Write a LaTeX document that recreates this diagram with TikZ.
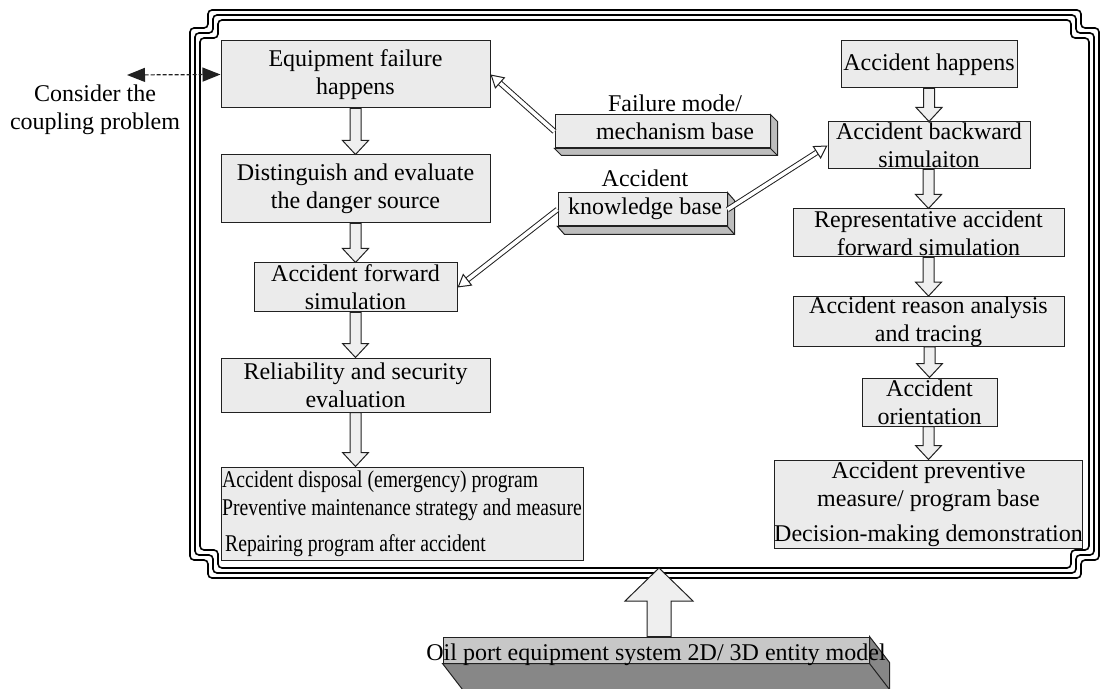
\documentclass[tikz,border=0pt]{standalone}
\usepackage{fontspec}
\setmainfont{Liberation Serif}
\newfontfamily\narrowserif{Liberation Serif}[FakeStretch=0.82]
\usepackage{tikz}
\usetikzlibrary{arrows.meta,calc}
\definecolor{pbline}{rgb}{0.13,0.13,0.13}
\definecolor{pbfill}{rgb}{0.92,0.92,0.92}
\definecolor{pbside}{rgb}{0.74,0.74,0.74}
\definecolor{pbdark}{rgb}{0.53,0.53,0.53}

% block arrow: start, tip, half shaft, half head, head length
\newcommand{\blockarrow}[5]{%
  \draw[barrow] let \p1=(#1), \p2=(#2), \n1={ifthenelse(\y2<\y1,1,-1)} in
    (\x2-#3,\y1) -- (\x2-#3,\y2+\n1*#5) -- (\x2-#4,\y2+\n1*#5) -- (\p2)
    -- (\x2+#4,\y2+\n1*#5) -- (\x2+#3,\y2+\n1*#5) -- (\x2+#3,\y1) -- cycle;}
% extruded faces of a 3D box: node, dx, dy, colour
\newcommand{\extrude}[4]{%
  \draw[pbline, line width=0.5pt, fill=#4] (#1.north east) -- ++(#2,#3)
    -- ($(#1.south east)+(#2,#3)$) -- ($(#1.south west)+(#2,#3)$)
    -- (#1.south west) -- (#1.south east) -- cycle;
  \draw[pbline, line width=0.5pt] (#1.south east) -- ++(#2,#3);}

\begin{document}
\begin{tikzpicture}[
  x=0.5pt, y=-0.5pt,
  font=\fontsize{12}{14}\selectfont,
  box/.style={draw=pbline, fill=pbfill, line width=0.5pt, inner sep=0pt, align=center},
  txt/.style={inner sep=0pt, align=center},
  barrow/.style={draw=pbline, fill=pbfill!80, line width=0.5pt, line join=miter},
  hollow/.style={draw=pbline, line width=0.5pt, double=white, double distance=1.8pt,
                 -{Triangle[open, length=6.5pt, width=7.5pt]}},
  frameline/.style={black, line width=0.8pt, rounded corners=2pt}
]
\useasboundingbox (0,0) rectangle (1101,689);

% triple frame with notched corners
\foreach \d in {0,5,10}
  \draw[frameline] (190+\d,560-\d) -- (190+\d,28+\d) -- (208+\d,28+\d) -- (208+\d,10+\d)
    -- (1081-\d,10+\d) -- (1081-\d,28+\d) -- (1099-\d,28+\d) -- (1099-\d,560-\d)
    -- (1081-\d,560-\d) -- (1081-\d,578-\d) -- (208+\d,578-\d) -- (208+\d,560-\d) -- cycle;

% left column
\node[box, minimum width=134.5pt, minimum height=33.5pt] (eq) at (355.5,74.5) {Equipment failure\\happens};
\node[box, minimum width=134.5pt, minimum height=34pt] (dist) at (355.5,189) {Distinguish and evaluate\\the danger source};
\node[box, minimum width=101.5pt, minimum height=24.5pt] (fwd) at (355.5,287.5) {Accident forward\\simulation};
\node[box, minimum width=134.5pt, minimum height=27pt] (rel) at (355.5,385) {Reliability and security\\evaluation};
\node[box, minimum width=181pt, minimum height=46.5pt, align=left,
      font=\narrowserif\fontsize{12}{14}\selectfont] (out) at (402,513.5)
  {Accident disposal (emergency) program\\Preventive maintenance strategy and measure\\[4pt]\hspace*{1.5pt}Repairing program after accident};

% right column
\node[box, minimum width=88pt, minimum height=23.5pt] (happ) at (929,64.5) {Accident happens};
\node[box, minimum width=101pt, minimum height=23.5pt] (back) at (929,145.5) {Accident backward\\simulaiton};
\node[box, minimum width=135.5pt, minimum height=24pt] (rep) at (928.5,233) {Representative accident\\forward simulation};
\node[box, minimum width=135.5pt, minimum height=23.5pt] (reason) at (928.5,321.5) {Accident reason analysis\\and tracing};
\node[box, minimum width=67.5pt, minimum height=24pt] (orient) at (929.5,402) {Accident\\orientation};
\node[box, minimum width=135.5pt, minimum height=44pt] (prev) at (928.5,504)
  {Accident preventive\\measure/ program base\\[3.5pt]Decision-making demonstration};

% knowledge bases
\node[box, minimum width=107.5pt, minimum height=16.5pt] (fm) at (662.5,131.5) {};
\extrude{fm}{7}{7}{pbside}
\node[txt] (fmtext) at (675,117) {Failure mode/\\mechanism base};
\node[box, minimum width=84.5pt, minimum height=16.5pt] (kb) at (642.5,209.5) {};
\extrude{kb}{7}{8}{pbside}
\node[txt] (kbtext) at (645,195) {Accident\\knowledge base};

% entity model
\node[box, fill=pbfill!85!black, minimum width=213pt, minimum height=13pt] (model) at (656,650) {};
\extrude{model}{20}{26}{pbdark}
\node[txt] (modeltext) at (656,655) {Oil port equipment system 2D/ 3D entity model};

% coupling
\coordinate (cpl) at (127,75);
\node[txt] (cpltext) at (95,110) {Consider the\\coupling problem};
\draw[pbline, dashed, dash pattern=on 2pt off 1pt, line width=0.6pt,
  {Triangle[length=9pt, width=7pt]}-{Triangle[length=9pt, width=7pt]}] (cpl) -- (eq.west);

% flow arrows
\blockarrow{eq.south}{dist.north}{2.75pt}{6.5pt}{7pt}
\blockarrow{dist.south}{fwd.north}{2.75pt}{6.5pt}{7pt}
\blockarrow{fwd.south}{rel.north}{2.75pt}{6.5pt}{7pt}
\blockarrow{rel.south}{rel.south |- out.north}{2.75pt}{6.5pt}{7pt}
\blockarrow{happ.south}{back.north}{2.75pt}{6.5pt}{7pt}
\blockarrow{back.south}{rep.north}{2.75pt}{6.5pt}{7pt}
\blockarrow{rep.south}{reason.north}{2.75pt}{6.5pt}{7pt}
\blockarrow{reason.south}{orient.north}{2.75pt}{6.5pt}{7pt}
\blockarrow{orient.south}{prev.north}{2.75pt}{6.5pt}{7pt}
\coordinate (ftip) at (659,568);
\blockarrow{model.north}{ftip}{6pt}{17pt}{16.5pt}

% base links
\draw[hollow] (fm.west) -- (eq.east);
\draw[hollow] (kb.west) -- (fwd.east);
\draw[hollow] (kb.east) -- (back.west);
\end{tikzpicture}
\end{document}
